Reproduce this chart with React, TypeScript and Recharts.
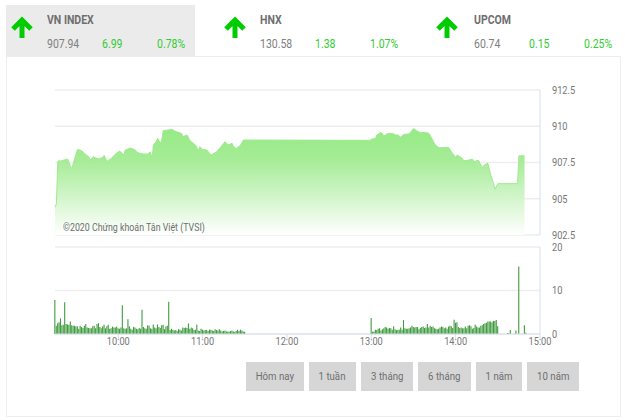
import React from "react";
import {
  AreaChart,
  Area,
  BarChart,
  Bar,
  XAxis,
  YAxis,
  CartesianGrid,
  ReferenceLine,
} from "recharts";

const FONT = "Roboto, sans-serif";
const NARROW = 0.84;

// minutes since the 9:15 open
const priceMinutes = [
  0, 1, 2, 3, 4, 6, 8, 9, 11, 12, 14, 16, 19, 21, 24, 25, 27, 31, 34, 35, 37, 40, 43, 46, 49, 50, 54, 57, 59, 63, 66,
  68, 69, 70, 72, 73, 75, 76, 77, 81, 83, 86, 90, 91, 94, 96, 100, 102, 103, 105, 108, 111, 115, 117, 120, 121, 123,
  126, 127, 129, 132, 134, 224, 225, 228, 229, 232, 234, 237, 240, 242, 244, 246, 248, 252, 255, 257, 260, 263, 266,
  268, 270, 273, 276, 280, 282, 285, 286, 289, 291, 294, 297, 298, 301, 304, 306, 308, 310, 312, 313, 315, 329, 330,
  334,
];
const priceValues = [
  904.42, 904.65, 907.55, 907.66, 907.59, 907.66, 907.71, 907.75, 907.25, 907.08, 907.78, 908.4, 908.31, 908.12,
  907.89, 907.66, 907.89, 907.75, 907.85, 907.99, 907.57, 907.78, 908.08, 908.29, 908.01, 908.36, 908.5, 908.36,
  908.17, 908.08, 908.08, 908.24, 907.71, 908.7, 908.94, 909.17, 908.82, 909.05, 909.7, 909.75, 909.79, 909.63,
  909.51, 909.28, 909.4, 909.0, 908.7, 908.31, 908.59, 908.4, 908.36, 908.01, 908.24, 908.47, 908.82, 908.94, 908.7,
  908.82, 908.59, 908.47, 908.7, 909.05, 909.03, 909.1, 909.17, 909.4, 909.58, 909.33, 909.51, 909.51, 909.4, 909.4,
  909.24, 909.44, 909.47, 909.84, 909.7, 909.56, 909.58, 909.51, 909.17, 908.77, 908.52, 908.52, 908.54, 908.24,
  907.85, 908.01, 907.85, 907.62, 907.66, 907.73, 907.55, 907.66, 907.15, 907.38, 907.43, 906.62, 906.04, 905.65,
  906.04, 906.04, 907.96, 907.96,
];

// volume in millions, one bar per minute from the open
const morningVolume = [
  7.8, 1.9, 2.5, 2.7, 3.6, 2.0, 2.1, 7.3, 2.3, 2.2, 2.1, 2.9, 2.0, 1.9, 1.9, 1.7, 1.8, 1.2, 1.9, 1.6, 1.4, 1.9, 2.3,
  1.5, 1.4, 1.3, 1.3, 1.8, 1.9, 1.3, 2.3, 2.5, 1.6, 1.3, 1.7, 2.1, 1.3, 1.8, 2.1, 1.2, 1.3, 1.7, 1.5, 1.5, 1.7, 1.3,
  1.2, 1.5, 6.6, 1.3, 1.2, 1.3, 3.4, 1.8, 1.2, 1.0, 1.6, 1.5, 1.2, 1.1, 1.4, 1.2, 5.6, 1.6, 1.3, 1.2, 2.0, 1.9, 1.3,
  1.2, 2.2, 1.5, 1.3, 2.2, 1.6, 1.4, 2.0, 2.1, 1.1, 1.7, 1.9, 7.4, 0.9, 1.2, 1.0, 0.8, 0.9, 0.7, 1.1, 1.0, 0.8, 1.5,
  1.4, 1.5, 1.4, 2.4, 1.2, 1.5, 1.3, 0.9, 1.0, 2.2, 0.8, 0.7, 1.2, 1.0, 0.8, 0.9, 0.9, 0.7, 1.0, 1.0, 0.8, 0.7, 1.1,
  0.9, 0.8, 1.1, 0.8, 0.6, 0.7, 0.8, 0.6, 0.6, 0.5, 0.7, 0.8, 0.6, 0.5, 0.7, 1.0, 0.7, 1.0, 0.8, 0.6, 0.5,
];
const afternoonVolume = [
  3.7, 0.5, 0.6, 1.0, 0.9, 1.2, 1.3, 0.8, 1.1, 1.3, 1.6, 1.5, 1.2, 1.4, 1.3, 1.0, 1.8, 1.1, 0.9, 1.0, 1.0, 1.5, 1.0,
  3.2, 1.3, 1.2, 1.2, 1.3, 1.5, 1.9, 1.6, 1.5, 1.6, 1.6, 1.1, 1.4, 1.6, 1.7, 1.4, 1.5, 2.3, 1.5, 1.9, 1.6, 1.7, 1.3,
  1.2, 1.1, 1.2, 1.5, 1.7, 1.6, 1.3, 1.5, 1.2, 1.7, 1.9, 1.8, 1.4, 3.3, 2.6, 2.7, 1.6, 1.4, 1.5, 1.3, 1.3, 1.7, 1.3,
  1.9, 2.0, 1.8, 1.2, 1.4, 2.2, 1.7, 1.5, 1.5, 1.9, 2.0, 2.3, 2.5, 2.6, 2.9, 2.9, 2.9, 2.7, 3.0, 3.0, 3.2, 1.8,
];
const closeMinutes = [322, 323, 324, 328, 330, 334, 335];
const closeVolume = [0.2, 0.2, 0.9, 0.8, 15.5, 2.0, 0.3];

const timeTicks = [45, 105, 165, 225, 285, 345];
const timeLabels = ["10:00", "11:00", "12:00", "13:00", "14:00", "15:00"];
const priceTicks = [902.5, 905, 907.5, 910, 912.5];
const volumeTicks = [0, 10, 20];

const indexes = [
  { name: "VN INDEX", value: "907.94", change: "6.99", pct: "0.78%" },
  { name: "HNX", value: "130.58", change: "1.38", pct: "1.07%" },
  { name: "UPCOM", value: "60.74", change: "0.15", pct: "0.25%" },
];
const tabLeft = [47, 260, 474];
const arrowLeft = [22, 235, 447];
const ranges = ["Hôm nay", "1 tuần", "3 tháng", "6 tháng", "1 năm", "10 năm"];
const rangeLeft = [246, 309, 361, 418, 476, 527];
const rangeWidth = [58, 47, 52, 53, 46, 52];

const priceData = priceMinutes.map((minute, i) => ({ minute, price: priceValues[i] }));
const volumeData = [
  ...morningVolume.map((volume, i) => ({ minute: i, volume })),
  ...afternoonVolume.map((volume, i) => ({ minute: 225 + i, volume })),
  ...closeMinutes.map((minute, i) => ({ minute, volume: closeVolume[i] })),
];

const timeLabel = (m: number) => timeLabels[timeTicks.indexOf(m)] ?? "";

// no condensed font is installed, so squeeze Roboto horizontally
function NarrowTick({ x, y, payload, textAnchor, tickFormatter }: any) {
  return (
    <text
      transform={`translate(${x},${y}) scale(${NARROW},1)`}
      dy="0.35em"
      textAnchor={textAnchor}
      fontSize={11}
      fontFamily={FONT}
      fill="#777"
    >
      {tickFormatter ? tickFormatter(payload.value) : payload.value}
    </text>
  );
}

function Narrow({ left, top, size, color, bold, children }: any) {
  return (
    <div
      style={{
        position: "absolute",
        left,
        top,
        fontSize: size,
        color,
        fontWeight: bold ? 700 : 400,
        whiteSpace: "nowrap",
        transform: `scaleX(${NARROW})`,
        transformOrigin: "left center",
      }}
    >
      {children}
    </div>
  );
}

function IndexTab({ item, left, arrow }: { item: (typeof indexes)[number]; left: number; arrow: number }) {
  return (
    <>
      <svg style={{ position: "absolute", left: arrow - 12, top: 17, overflow: "visible" }} width={24} height={22}>
        <path d="M12 21V4M3 12L12 3L21 12" fill="none" stroke="#00cc00" strokeWidth={5} />
      </svg>
      <Narrow left={left} top={12} size={12.5} color="#6e6e6e" bold>
        {item.name}
      </Narrow>
      <Narrow left={left} top={36} size={12.5} color="#808080">
        {item.value}
      </Narrow>
      <Narrow left={left + 55} top={36} size={12.5} color="#33cc33">
        {item.change}
      </Narrow>
      <Narrow left={left + 110} top={36} size={12.5} color="#33cc33">
        {item.pct}
      </Narrow>
    </>
  );
}

export default function App() {
  return (
    <div style={{ position: "absolute", left: 0, top: 0, width: 625, height: 420, background: "#fff", fontFamily: FONT, overflow: "hidden" }}>
      <div style={{ position: "absolute", left: 6, top: 5, width: 189, height: 51, background: "#ebebeb" }} />
      <div style={{ position: "absolute", left: 6, top: 56, width: 613, height: 359, border: "1px solid #eeeeee" }} />
      {indexes.map((item, i) => (
        <IndexTab key={item.name} item={item} left={tabLeft[i]} arrow={arrowLeft[i]} />
      ))}

      <div style={{ position: "absolute", left: 0, top: 80 }}>
        <AreaChart width={625} height={165} data={priceData} margin={{ top: 10, right: 25, bottom: 10, left: 55 }}>
          <defs>
            <linearGradient id="priceFill" x1="0" y1="0" x2="0" y2="1">
              <stop offset="0%" stopColor="#96ea85" />
              <stop offset="30%" stopColor="#a6ec97" />
              <stop offset="100%" stopColor="#ffffff" />
            </linearGradient>
          </defs>
          <XAxis dataKey="minute" type="number" domain={[0, 345]} ticks={timeTicks} hide />
          <YAxis
            orientation="right"
            width={60}
            domain={[902.5, 912.5]}
            ticks={priceTicks}
            tick={<NarrowTick />}
            tickMargin={6}
            axisLine={false}
            tickLine={false}
            interval={0}
          />
          <Area
            dataKey="price"
            type="linear"
            stroke="#9fe98f"
            strokeWidth={1}
            fill="url(#priceFill)"
            fillOpacity={1}
            dot={false}
            activeDot={false}
            isAnimationActive={false}
          />
          <CartesianGrid vertical={false} stroke="#000" strokeOpacity={0.07} strokeWidth={1.5} />
          <ReferenceLine x={345} stroke="#d5e0ee" />
        </AreaChart>
      </div>
      <Narrow left={63} top={221} size={10.5} color="#6e6e6e">
        ©2020 Chứng khoán Tân Việt (TVSI)
      </Narrow>

      <div style={{ position: "absolute", left: 0, top: 240 }}>
        <BarChart width={625} height={115} data={volumeData} margin={{ top: 7, right: 25, bottom: 0, left: 55 }}>
          <CartesianGrid vertical={false} stroke="#000" strokeOpacity={0.07} strokeWidth={1.5} />
          <XAxis
            dataKey="minute"
            type="number"
            domain={[0, 345]}
            ticks={timeTicks}
            tickFormatter={timeLabel}
            tick={<NarrowTick tickFormatter={timeLabel} />}
            height={21}
            stroke="#d5e0ee"
            tickSize={5}
            interval={0}
          />
          <YAxis
            orientation="right"
            width={60}
            domain={[0, 20]}
            ticks={volumeTicks}
            tick={<NarrowTick tickFormatter={(v: number) => (v === 0 ? "0" : `${v}M`)} />}
            tickMargin={6}
            axisLine={false}
            tickLine={false}
            interval={0}
          />
          <ReferenceLine x={345} stroke="#d5e0ee" />
          <Bar dataKey="volume" fill="#3f9c3f" barSize={1.1} isAnimationActive={false} />
        </BarChart>
      </div>

      {ranges.map((label, i) => (
        <div
          key={label}
          style={{
            position: "absolute",
            left: rangeLeft[i],
            top: 362,
            width: rangeWidth[i],
            height: 29,
            lineHeight: "29px",
            textAlign: "center",
            background: "#d6d6d6",
            color: "#6e6e6e",
            fontSize: 11.5,
          }}
        >
          <span style={{ display: "inline-block", transform: `scaleX(${NARROW})` }}>{label}</span>
        </div>
      ))}
    </div>
  );
}
